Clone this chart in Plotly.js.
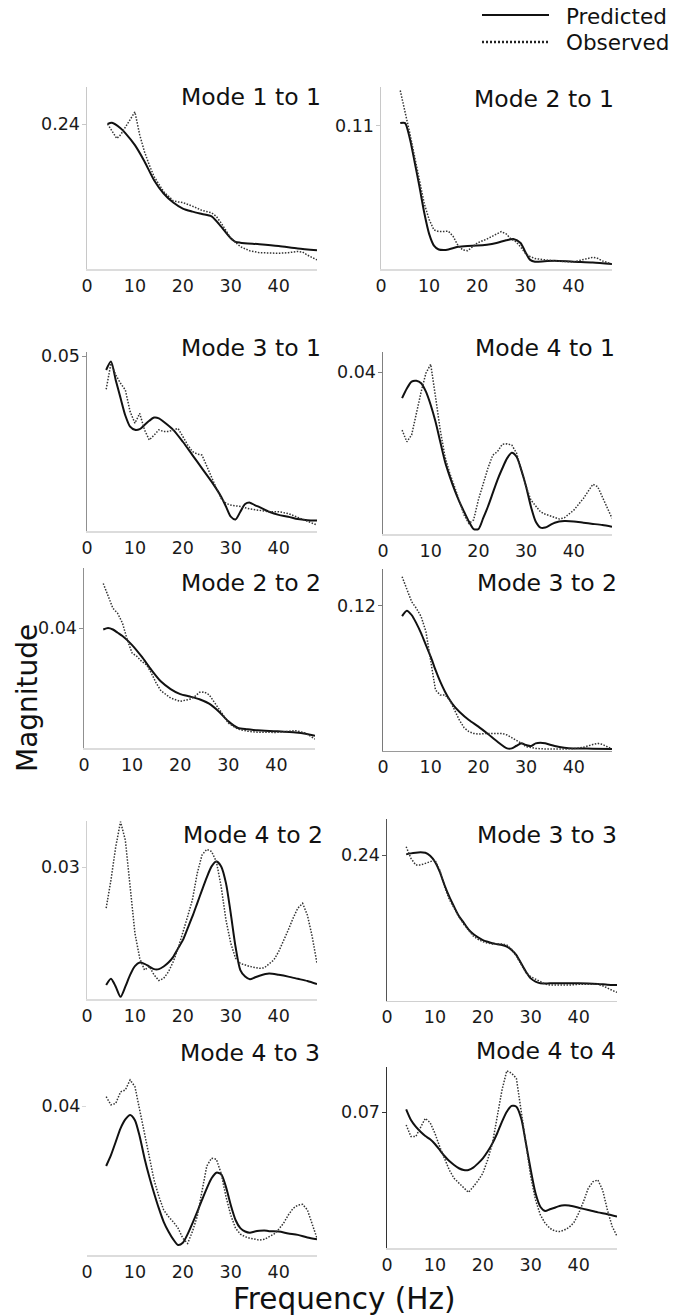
<!DOCTYPE html>
<html>
<head>
<meta charset="utf-8">
<script src="https://cdn.plot.ly/plotly-3.0.1.min.js"></script>
<style>html,body{margin:0;padding:0;background:#fff;}#chart{width:688px;height:1315px;}</style>
</head>
<body>
<div id="chart"></div>
<script>
// ---------------- DATA (frequency in Hz, magnitude) ----------------
const xTicks = [0, 10, 20, 30, 40];

const m11_pf = [4.3,5.2,7,8,10,12,14,16,18,20,22,24,26,28,30,31,32,36,40,44,48];
const m11_pred = [0.240,0.242,0.233,0.225,0.205,0.178,0.147,0.125,0.110,0.100,0.095,0.091,0.087,0.070,0.051,0.045,0.0436,0.041,0.038,0.034,0.031];
const m11_of = [4.3,5,6.2,7,8,9,10,11,12,13,14,16,18,19,20,22,24,26,27,28,30,32,34,36,38,40,42,44,45,46,48];
const m11_obs = [0.240,0.231,0.216,0.222,0.235,0.248,0.260,0.222,0.194,0.172,0.153,0.128,0.113,0.111,0.110,0.104,0.097,0.093,0.087,0.076,0.051,0.037,0.030,0.027,0.026,0.026,0.027,0.029,0.028,0.023,0.015];

const m21_pf = [4,5,6,7,8,9,10,11,12,13,14,16,18,20,22,24,26,27.5,29,30,31,32,34,36,40,44,48];
const m21_pred = [0.112,0.112,0.100,0.082,0.063,0.043,0.027,0.018,0.015,0.0146,0.015,0.017,0.0177,0.018,0.0187,0.020,0.022,0.023,0.020,0.013,0.007,0.0056,0.006,0.0064,0.0056,0.005,0.0038];
const m21_of = [4,5,6,7,8,9,10,11,12,13,14,15,16,17,18,19,20,22,24,25,26,27,28,29,30,31,32,34,36,40,42,44,45,46,48];
const m21_obs = [0.137,0.121,0.104,0.086,0.068,0.050,0.038,0.030,0.0287,0.0287,0.029,0.025,0.018,0.0146,0.014,0.017,0.020,0.023,0.027,0.0287,0.027,0.023,0.021,0.017,0.012,0.0095,0.008,0.007,0.0062,0.0054,0.007,0.009,0.0082,0.0062,0.0038];

const m31_pf = [4,5,6,7,8,9,10,11,12,13,14,15,16,18,20,22,24,26,28,29,30,31,32,33,34,35,36,38,40,42,44,46,48];
const m31_pred = [0.046,0.0484,0.0431,0.038,0.033,0.0298,0.0289,0.0291,0.0303,0.0315,0.0324,0.0322,0.0312,0.0289,0.0255,0.0217,0.0179,0.0141,0.0098,0.0070,0.0041,0.0033,0.0055,0.0077,0.0081,0.0074,0.0068,0.0055,0.0046,0.0041,0.0034,0.0031,0.0030];
const m31_of = [4,5,6,7,8,9,10,11,12,13,14,15,16,17,18,19,20,21,22,23,24,25,26,27,28,29,30,32,34,36,38,40,42,44,46,48];
const m31_obs = [0.0405,0.0479,0.0446,0.0422,0.0403,0.0341,0.0308,0.0336,0.0289,0.0260,0.0274,0.0289,0.0284,0.0284,0.0289,0.0293,0.0270,0.0246,0.0227,0.0220,0.0217,0.0184,0.0150,0.0122,0.0093,0.0079,0.0074,0.0070,0.0063,0.0058,0.0055,0.0055,0.0050,0.0039,0.0027,0.0017];

const m41_pf = [4,5,6,7,8,9,10,11,12,13,14,15,16,17,18,19,20,21,22,23,24,25,26,27,28,29,30,31,32,33,34,35,36,38,40,42,44,46,48];
const m41_pred = [0.0336,0.0360,0.0377,0.0379,0.0373,0.0352,0.0319,0.0278,0.0228,0.0179,0.0142,0.0109,0.0080,0.0055,0.0031,0.0012,0.0012,0.0039,0.0068,0.0101,0.0134,0.0162,0.0187,0.0201,0.0191,0.0158,0.0117,0.0068,0.0031,0.0016,0.0016,0.0022,0.0028,0.0032,0.0031,0.0028,0.0025,0.0022,0.0018];
const m41_of = [4,5,6,7,8,9,10,11,12,13,14,15,16,17,18,19,20,21,22,23,24,25,26,27,28,29,30,31,32,33,34,36,37,38,40,42,43,44,45,46,47,48];
const m41_obs = [0.0257,0.0228,0.0245,0.0299,0.0352,0.0398,0.0420,0.0340,0.0257,0.0191,0.0150,0.0117,0.0084,0.0047,0.0026,0.0035,0.0085,0.0125,0.0163,0.0195,0.0204,0.0222,0.0223,0.0220,0.0200,0.0158,0.0117,0.0084,0.0068,0.0055,0.0049,0.0040,0.0037,0.0040,0.0059,0.0088,0.0106,0.0123,0.0117,0.0092,0.0068,0.0039];

const m22_pf = [4,5,6,7,8,10,12,14,16,18,20,22,24,26,28,30,32,34,36,40,44,46,48];
const m22_pred = [0.0396,0.0401,0.0396,0.0385,0.0374,0.0344,0.0305,0.0261,0.0222,0.0197,0.0180,0.0172,0.0163,0.0148,0.0122,0.0089,0.0067,0.0063,0.0059,0.0056,0.0052,0.0048,0.0041];
const m22_of = [4,5,6,7,8,9,10,11,12,13,14,15,16,18,20,22,23,24,25,26,27,28,29,30,31,32,34,36,40,44,46,48];
const m22_obs = [0.0550,0.0506,0.0467,0.0450,0.0417,0.0361,0.0317,0.0306,0.0289,0.0278,0.0250,0.0217,0.0191,0.0167,0.0156,0.0163,0.0172,0.0186,0.0187,0.0178,0.0156,0.0133,0.0108,0.0083,0.0072,0.0063,0.0056,0.0053,0.0052,0.0058,0.0050,0.0030];

const m32_pf = [4,5,6,7,8,9,10,11,12,13,14,15,16,18,20,22,24,26,27,28,29,30,31,32,33,34,36,38,40,44,48];
const m32_pred = [0.1114,0.1159,0.1123,0.1054,0.0971,0.0874,0.0778,0.0668,0.0571,0.0488,0.0419,0.0364,0.0323,0.0254,0.0199,0.0138,0.0074,0.0019,0.0019,0.0041,0.0061,0.0047,0.0039,0.0061,0.0066,0.0061,0.0039,0.0025,0.0019,0.0017,0.0014];
const m32_of = [4,5,6,7,8,9,10,11,12,13,14,15,16,17,18,19,20,22,24,25,26,27,28,29,30,32,34,36,38,40,42,44,45,46,48];
const m32_obs = [0.144,0.1343,0.1233,0.1178,0.1109,0.0985,0.0750,0.0502,0.0461,0.0461,0.0419,0.0337,0.0254,0.0190,0.0158,0.0143,0.0138,0.0143,0.0143,0.0143,0.0130,0.0108,0.0088,0.0061,0.0033,0.0019,0.0014,0.0011,0.0014,0.0017,0.0028,0.0052,0.0061,0.0052,0.0014];

const m42_pf = [4,5,6,7,8,9,10,11,12,13,14,15,16,17,18,19,20,21,22,23,24,25,26,27,28,29,30,31,32,33,34,35,36,38,40,42,44,46,48];
const m42_pred = [0.0032,0.0046,0.0028,0.0005,0.0028,0.0055,0.0075,0.0083,0.0080,0.0074,0.0068,0.0068,0.0074,0.0083,0.0096,0.0115,0.0134,0.0161,0.0188,0.0218,0.0248,0.0277,0.0302,0.0313,0.0302,0.0264,0.0195,0.0119,0.0066,0.0051,0.0045,0.0049,0.0053,0.0058,0.0055,0.0051,0.0046,0.0041,0.0034];
const m42_of = [4,5,6,7,8,9,10,11,12,13,14,15,16,17,18,19,20,21,22,23,24,25,26,27,28,29,30,31,32,33,34,36,37,38,39,40,41,42,43,44,45,46,47,48];
const m42_obs = [0.0207,0.0271,0.0347,0.0404,0.0362,0.0256,0.0150,0.0093,0.0066,0.0074,0.0055,0.0042,0.0047,0.0062,0.0085,0.0115,0.0150,0.0188,0.0226,0.0286,0.0328,0.0341,0.0336,0.0313,0.0256,0.0180,0.0127,0.0093,0.0081,0.0077,0.0074,0.0070,0.0071,0.0080,0.0089,0.0108,0.0131,0.0157,0.0184,0.0207,0.0218,0.0191,0.0142,0.0081];

const m33_pf = [4,5,6,7,8,9,10,11,12,13,14,15,16,17,18,19,20,21,22,23,24,25,26,27,28,29,30,31,32,34,36,40,44,46,48];
const m33_pred = [0.241,0.2427,0.2438,0.2444,0.2438,0.2389,0.2290,0.2125,0.1906,0.1713,0.1549,0.1395,0.1285,0.1175,0.1098,0.1043,0.0999,0.097,0.0945,0.093,0.0917,0.0890,0.0835,0.0752,0.0615,0.0478,0.0368,0.0313,0.0286,0.0286,0.0286,0.0286,0.0275,0.0264,0.0258];
const m33_of = [4,5,6,7,8,9,10,11,12,13,14,15,16,17,18,19,20,21,22,23,24,25,26,27,28,29,30,31,32,33,34,36,38,40,42,44,45,46,47,48];
const m33_obs = [0.2537,0.2345,0.2235,0.2235,0.2262,0.2290,0.2317,0.2153,0.1878,0.1669,0.1521,0.1384,0.1263,0.116,0.1065,0.101,0.0972,0.095,0.0934,0.0934,0.0934,0.0917,0.0846,0.0736,0.0588,0.0461,0.0395,0.0351,0.0313,0.0275,0.0258,0.0253,0.0258,0.0269,0.0275,0.0269,0.0247,0.0203,0.0170,0.0137];

const m43_pf = [4,5,6,7,8,9,10,11,12,13,14,15,16,17,18,19,20,21,22,23,24,25,26,27,28,29,30,31,32,33,34,35,36,37,38,40,42,44,46,48];
const m43_pred = [0.0239,0.0268,0.0304,0.0340,0.0364,0.0376,0.0362,0.0318,0.0260,0.0210,0.0166,0.0125,0.0089,0.0063,0.0042,0.0027,0.0033,0.0056,0.0085,0.0116,0.0148,0.0179,0.0206,0.0221,0.0217,0.0183,0.0134,0.0094,0.0072,0.0063,0.0060,0.0063,0.0065,0.0066,0.0064,0.0063,0.0058,0.0054,0.0047,0.0042];
const m43_of = [4,5,6,7,8,9,10,11,12,13,14,15,16,17,18,19,20,21,22,23,24,25,26,27,28,29,30,31,32,33,34,35,36,37,38,39,40,41,42,43,44,45,46,47,48];
const m43_obs = [0.0425,0.0403,0.0407,0.0438,0.0443,0.0470,0.0452,0.0389,0.0318,0.0255,0.0201,0.0157,0.0121,0.0103,0.0089,0.0072,0.0045,0.0031,0.0063,0.0103,0.0170,0.0239,0.0260,0.0257,0.0219,0.0157,0.0107,0.0072,0.0056,0.0049,0.0045,0.0042,0.0040,0.0042,0.0049,0.0056,0.0069,0.0085,0.0107,0.0125,0.0134,0.0136,0.0121,0.0085,0.0045];

const m44_pf = [4,5,6,7,8,9,10,11,12,13,14,15,16,17,18,19,20,21,22,23,24,25,26,27,28,29,30,31,32,33,34,35,36,37,38,40,42,44,46,48];
const m44_pred = [0.0715,0.0660,0.0626,0.0600,0.0578,0.0561,0.0537,0.0506,0.0475,0.0449,0.0429,0.0412,0.0403,0.0403,0.0415,0.0437,0.0463,0.0498,0.0540,0.0592,0.0652,0.0703,0.0733,0.0729,0.0669,0.0540,0.0403,0.0283,0.0214,0.0192,0.0201,0.0209,0.0218,0.0221,0.0220,0.0209,0.0197,0.0185,0.0175,0.0163];
const m44_of = [4,5,6,7,8,9,10,11,12,13,14,15,16,17,18,19,20,21,22,23,24,25,26,27,28,29,30,31,32,33,34,35,36,37,38,39,40,41,42,43,44,45,46,47,48];
const m44_obs = [0.0635,0.0575,0.0575,0.0626,0.0669,0.0647,0.0592,0.0523,0.0463,0.0403,0.0360,0.0335,0.0309,0.0288,0.0317,0.0348,0.0386,0.0455,0.0540,0.0678,0.0815,0.0914,0.0901,0.0875,0.0712,0.0532,0.0369,0.0249,0.0172,0.0129,0.0103,0.0089,0.0086,0.0094,0.0108,0.0132,0.0180,0.0240,0.0309,0.0343,0.0352,0.0300,0.0197,0.0112,0.0063];

const titles = ['Mode 1 to 1','Mode 2 to 1','Mode 3 to 1','Mode 4 to 1','Mode 2 to 2','Mode 3 to 2','Mode 4 to 2','Mode 3 to 3','Mode 4 to 3','Mode 4 to 4'];
const yTickVals = [0.24, 0.11, 0.05, 0.04, 0.04, 0.12, 0.03, 0.24, 0.04, 0.07];
const predF = [m11_pf,m21_pf,m31_pf,m41_pf,m22_pf,m32_pf,m42_pf,m33_pf,m43_pf,m44_pf];
const predV = [m11_pred,m21_pred,m31_pred,m41_pred,m22_pred,m32_pred,m42_pred,m33_pred,m43_pred,m44_pred];
const obsF = [m11_of,m21_of,m31_of,m41_of,m22_of,m32_of,m42_of,m33_of,m43_of,m44_of];
const obsV = [m11_obs,m21_obs,m31_obs,m41_obs,m22_obs,m32_obs,m42_obs,m33_obs,m43_obs,m44_obs];

// ---------------- LAYOUT (pixel geometry of each panel) ----------------
const W = 688, H = 1315;
// [x0, x1, yTop, yBottom, tickPx, yLineColor, xLineColor, titleRightX, titleCenterY, showYLine]
const geo = [
  [87, 317, 87, 269, 124, '#c8c8c8', '#dcdcdc', 323, 97, true],
  [381, 612, 87, 269, 125.7, '#c8c8c8', '#dcdcdc', 616, 99, true],
  [87, 317, 352, 531, 356, '#909090', '#dcdcdc', 323, 348, true],
  [383, 612, 352, 534, 372.3, '#808080', '#dcdcdc', 617, 348, true],
  [84, 315, 568, 748, 628.3, '#909090', '#dcdcdc', 323, 583, true],
  [383, 612, 569, 750.7, 605.7, '#7a7a7a', '#9a9a9a', 619, 583, true],
  [87, 317, 821, 999, 867.3, '#cfcfcf', '#dcdcdc', 325, 835, true],
  [387, 617, 819, 1000.7, 855, '#555555', '#d0d0d0', 619, 835, true],
  [87, 317, 1070, 1255, 1106, '#ffffff', '#dcdcdc', 322, 1053, false],
  [387, 617, 1067.3, 1248.3, 1112.3, '#333333', '#dcdcdc', 618, 1051, true]
];
const px = v => v / W;
const py = v => 1 - v / H;
const FONT = 'DejaVu Sans, Verdana, sans-serif';

const traces = [];
const layout = {
  width: W, height: H,
  margin: {l: 0, r: 0, t: 0, b: 0},
  paper_bgcolor: '#fff', plot_bgcolor: 'rgba(0,0,0,0)',
  showlegend: false,
  font: {family: FONT, color: '#1a1a1a'},
  annotations: [], shapes: []
};

geo.forEach((g, i) => {
  const n = i + 1;
  const xa = 'x' + (n === 1 ? '' : n), ya = 'y' + (n === 1 ? '' : n);
  const [x0, x1, yT, yB, tPx, ylc, xlc, tx, ty, showY] = g;
  const scale = (yB - tPx) / yTickVals[i];
  const yTop = (yB - yT) / scale;
  traces.push({
    x: predF[i], y: predV[i], xaxis: xa, yaxis: ya, type: 'scatter', mode: 'lines',
    name: 'Predicted', line: {color: '#111', width: 2, shape: 'spline', smoothing: 0.7},
    hoverinfo: 'skip', cliponaxis: false
  });
  traces.push({
    x: obsF[i], y: obsV[i], xaxis: xa, yaxis: ya, type: 'scatter', mode: 'lines',
    name: 'Observed', line: {color: '#333', width: 1.5, dash: '1.5px,1.5px'},
    hoverinfo: 'skip', cliponaxis: false
  });
  layout['xaxis' + (n === 1 ? '' : n)] = {
    domain: [px(x0), px(x1)], anchor: ya, range: [0, 48],
    showgrid: false, zeroline: false, showline: true, linecolor: xlc, linewidth: 1.5,
    tickvals: xTicks, ticks: '', tickfont: {size: 17.5, family: FONT, color: '#1a1a1a'},
    fixedrange: true
  };
  layout['yaxis' + (n === 1 ? '' : n)] = {
    domain: [py(yB), py(yT)], anchor: xa, range: [0, yTop],
    showgrid: false, zeroline: false, showline: showY, linecolor: ylc, linewidth: 1.5,
    tickvals: [yTickVals[i]], ticks: 'outside', ticklen: 4, tickcolor: showY ? ylc : '#d8d8d8', tickwidth: 1,
    ticklabelstandoff: -2,
    tickfont: {size: 17.5, family: FONT, color: '#1a1a1a'}, fixedrange: true
  };
  layout.annotations.push({
    text: titles[i], xref: 'paper', yref: 'paper', x: px(tx), y: py(ty),
    xanchor: 'right', yanchor: 'middle', showarrow: false,
    font: {size: 23.5, family: FONT, color: '#111'}
  });
});

// axis titles
layout.annotations.push({
  text: 'Magnitude', xref: 'paper', yref: 'paper', x: px(27), y: py(698),
  xanchor: 'center', yanchor: 'middle', textangle: -90, showarrow: false,
  font: {size: 28, family: FONT, color: '#111'}
});
layout.annotations.push({
  text: 'Frequency (Hz)', xref: 'paper', yref: 'paper', x: px(344), y: py(1299),
  xanchor: 'center', yanchor: 'middle', showarrow: false,
  font: {size: 29.5, family: FONT, color: '#111'}
});

// legend (key lines + labels)
layout.shapes.push({type: 'line', xref: 'paper', yref: 'paper', x0: px(482), x1: px(549), y0: py(15), y1: py(15), line: {color: '#111', width: 2}});
layout.shapes.push({type: 'line', xref: 'paper', yref: 'paper', x0: px(482), x1: px(549), y0: py(42), y1: py(42), line: {color: '#222', width: 2.5, dash: '2px,2px'}});
layout.annotations.push({text: 'Predicted', xref: 'paper', yref: 'paper', x: px(564), y: py(17), xanchor: 'left', yanchor: 'middle', showarrow: false, font: {size: 21.5, family: FONT, color: '#111'}});
layout.annotations.push({text: 'Observed', xref: 'paper', yref: 'paper', x: px(564), y: py(42), xanchor: 'left', yanchor: 'middle', showarrow: false, font: {size: 21.5, family: FONT, color: '#111'}});

Plotly.newPlot('chart', traces, layout, {staticPlot: true, displayModeBar: false});
</script>
</body>
</html>
